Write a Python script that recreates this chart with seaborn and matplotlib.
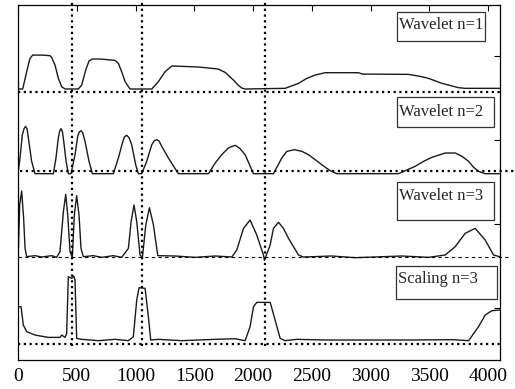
import matplotlib
matplotlib.use("Agg")
import matplotlib.pyplot as plt
import seaborn as sns
import pandas as pd
from matplotlib.patches import Rectangle

# Data (x in samples, heights above each trace's reference line)
w1_x = [0, 40, 74, 102, 125, 200, 272, 287, 315, 343, 372, 400, 513, 542, 576, 604, 632, 700, 826,
        854, 882, 911, 953, 1138, 1194, 1251, 1308, 1535, 1702, 1762, 1787, 1832, 1872, 1903, 1932,
        2272, 2386, 2457, 2528, 2613, 2896, 2930, 3322, 3407, 3492, 3606, 3747, 3804, 4096]
w1_y = [.036, .036, .242, .401, .44, .44, .433, .409, .321, .163, .063, .036, .036, .083, .262, .369,
        .393, .393, .377, .341, .242, .123, .036, .036, .123, .242, .31, .298, .274, .234, .202, .143,
        .083, .048, .036, .044, .103, .163, .202, .23, .23, .214, .21, .19, .163, .103, .052, .044, .044]

w2_x = [0, 17, 37, 52, 65, 78, 88, 116, 145, 301, 323, 343, 355, 366, 378, 389, 409, 428, 451, 485,
        508, 522, 536, 550, 570, 604, 633, 811, 854, 888, 905, 925, 945, 967, 1001, 1024, 1052, 1095,
        1138, 1160, 1180, 1200, 1223, 1279, 1364, 1620, 1677, 1733, 1790, 1847, 1889, 1932, 2003,
        2173, 2244, 2287, 2352, 2414, 2471, 2528, 2584, 2655, 2712, 3237, 3379, 3450, 3521, 3634,
        3719, 3776, 3833, 3875, 3917, 3974, 4096]
w2_y = [-.028, .159, .437, .51, .536, .50, .397, .119, -.028, -.028, .159, .397, .48, .508, .47, .357,
        .119, -.028, -.028, .198, .417, .47, .484, .46, .357, .119, -.028, -.028, .159, .337, .41,
        .429, .40, .317, .079, -.028, -.028, .119, .317, .365, .377, .36, .298, .159, -.028, -.028,
        .099, .198, .278, .31, .27, .198, -.028, -.028, .159, .238, .258, .238, .198, .139, .079,
        .008, -.028, -.028, .06, .119, .167, .218, .218, .179, .119, .048, 0, -.028, -.028]

w3_x = [0, 3, 14, 31, 48, 60, 74, 145, 201, 287, 329, 357, 386, 406, 423, 443, 462, 479, 499, 519,
        536, 556, 641, 712, 811, 882, 939, 962, 987, 1010, 1038, 1058, 1087, 1118, 1152, 1189, 1336,
        1506, 1677, 1819, 1861, 1918, 1974, 2031, 2088, 2096, 2145, 2173, 2216, 2258, 2301, 2386,
        2428, 2670, 2868, 3265, 3492, 3634, 3719, 3804, 3889, 3974, 4045, 4096]
w3_y = [.02, .063, .619, .786, .46, .103, .004, .016, 0, .016, -.004, .063, .54, .746, .5, .063, -.008,
        .5, .73, .5, .103, .004, .016, -.004, .016, -.004, .103, .421, .619, .421, .024, -.008, .381,
        .587, .381, .016, .012, -.004, .012, 0, .083, .341, .44, .262, .024, -.04, .143, .341, .413,
        .341, .222, .024, 0, .012, -.008, .012, -.004, .024, .123, .282, .341, .202, .024, .004]

s3_x = [0, 26, 45, 74, 145, 258, 357, 372, 400, 414, 428, 457, 474, 485, 499, 542, 684, 826, 939, 981,
        1010, 1030, 1081, 1109, 1129, 1194, 1393, 1677, 1847, 1932, 1974, 2003, 2031, 2088, 2145,
        2187, 2230, 2272, 2371, 2613, 3350, 3691, 3833, 3917, 3974, 4031, 4096]
s3_y = [.444, .444, .226, .147, .107, .079, .079, .107, .079, .127, .802, .782, .81, .762, .067, .056,
        .04, .056, .04, .087, .524, .671, .663, .325, .048, .056, .04, .056, .063, .04, .206, .444,
        .496, .496, .496, .286, .067, .04, .056, .048, .048, .052, .04, .206, .345, .397, .405]

labels = ["Wavelet n=1", "Wavelet n=2", "Wavelet n=3", "Scaling n=3"]
offsets = [3.571, 2.627, 1.607, 0.571]
markers_x = [460, 1055, 2100]

W, H = 515, 389
sns.set_style("white")
plt.rcParams["font.family"] = ["Liberation Serif", "DejaVu Serif"]

fig = plt.figure(figsize=(W / 100, H / 100), dpi=100)
ax = fig.add_axes([18 / W, 1 - 360 / H, 482 / W, 355 / H])

series = [(w1_x, w1_y), (w2_x, w2_y), (w3_x, w3_y), (s3_x, s3_y)]
for (xs, ys), off, name in zip(series, offsets, labels):
    df = pd.DataFrame({"x": xs, "y": [v + off for v in ys]})
    sns.lineplot(data=df, x="x", y="y", ax=ax, color="#1a1a1a", lw=1.0, estimator=None)

# reference lines under each trace
dots = (0, (1, 1.6))
ax.plot([0, 4100], [offsets[0]] * 2, color="black", lw=1.6, ls=dots)
ax.plot([17, 4230], [offsets[1]] * 2, color="black", lw=1.6, ls=dots, clip_on=False)
ax.plot([0, 4170], [offsets[2]] * 2, color="black", lw=0.8, ls=(0, (3, 3)), clip_on=False)
ax.plot([0, 4100], [offsets[3]] * 2, color="black", lw=1.6, ls=dots)
for xv in markers_x:
    ax.plot([xv, xv], [0.548, 4.667], color="black", lw=1.6, ls=dots, clip_on=False)

ax.set_xlim(0, 4100)
ax.set_ylim(0.381, 4.607)
ax.set_xticks(range(0, 4001, 500))
ax.set_yticks([1, 2, 3, 4])
ax.set_yticklabels([])
ax.tick_params(direction="in", length=4, width=0.8, top=True, right=True,
               labelsize=14, pad=6, colors="black")
ax.set_xlabel("")
ax.set_ylabel("")
for sp in ax.spines.values():
    sp.set_color("black")
    sp.set_linewidth(0.9)

# legend-like boxes (pixel positions)
boxes = [(397, 12, 485, 41, 25), (397, 97, 494, 127, 112),
         (397, 182, 494, 220, 196), (396, 266, 497, 299, 279)]
for (x0, y0, x1, y1, ty), name in zip(boxes, labels):
    fig.add_artist(Rectangle((x0 / W, 1 - y1 / H), (x1 - x0) / W, (y1 - y0) / H,
                             transform=fig.transFigure, fill=True, fc="white",
                             ec="#333333", lw=0.9))
    fig.text((x0 + 2) / W, 1 - ty / H, name, ha="left", va="center", fontsize=12)

fig.savefig("out.png", dpi=100)
